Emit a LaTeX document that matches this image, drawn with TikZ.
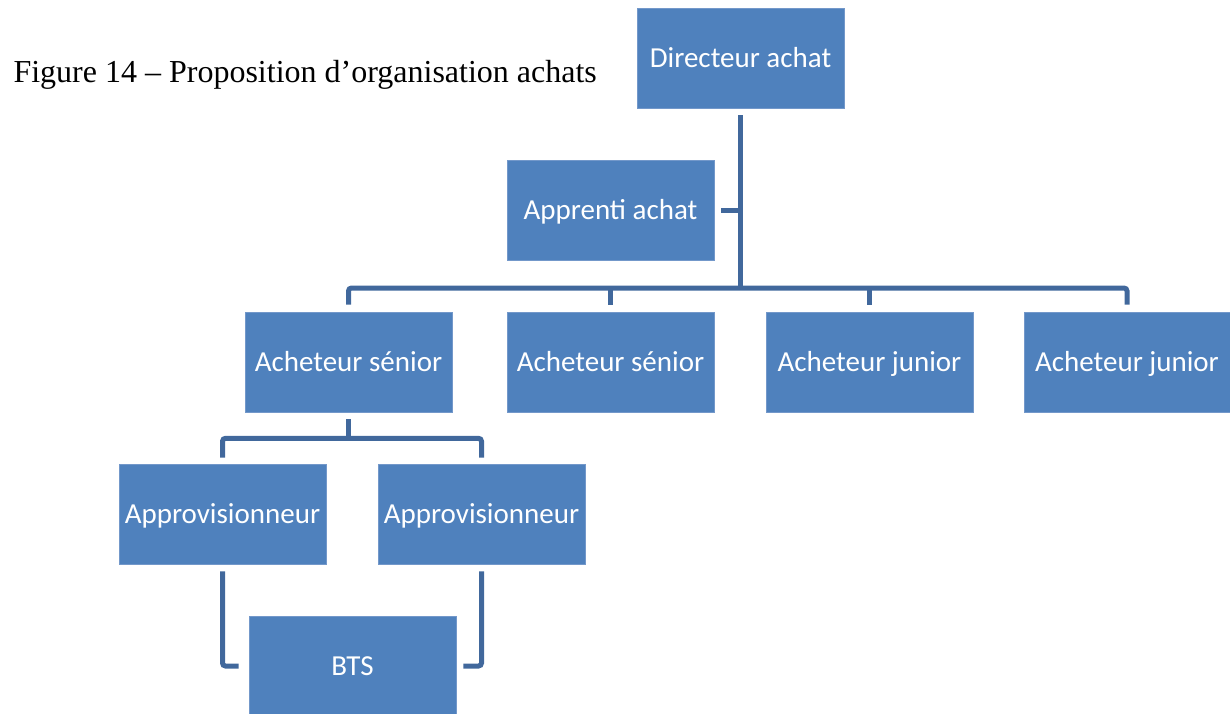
\documentclass[tikz,border=0pt]{standalone}
\usepackage{fontspec}
\setmainfont{Liberation Serif}
\newfontfamily\boxfont{Carlito}
\usetikzlibrary{calc}
\definecolor{boxblue}{HTML}{4F81BD}
\definecolor{boxedge}{HTML}{7398CA}
\definecolor{linkblue}{HTML}{41689C}
\begin{document}
\begin{tikzpicture}[x=1pt,y=-1pt,
  orgbox/.style={fill=boxblue,draw=boxedge,line width=0.6pt,minimum width=207pt,minimum height=100pt,
    inner sep=0pt,text=white,text height=18.7pt,text depth=0pt,font=\boxfont\fontsize{29}{34}\selectfont},
  link/.style={draw=linkblue,line width=5pt,rounded corners=3pt}]
\useasboundingbox (0,0) rectangle (1230,713);
\node[anchor=base west,font=\fontsize{32}{38}\selectfont] (title) at (10,82) {Figure 14 – Proposition d’organisation achats};
\node[orgbox] (dir) at (740.5,58) {Directeur achat};
\node[orgbox] (app) at (610.5,210) {Apprenti achat};
\node[orgbox] (s1) at (348.5,362) {Acheteur sénior};
\node[orgbox] (s2) at (610.5,362) {Acheteur sénior};
\node[orgbox] (j1) at (869.5,362) {Acheteur junior};
\node[orgbox,minimum width=206pt] (j2) at (1127,362) {Acheteur junior};
\node[orgbox] (ap1) at (222.5,514) {Approvisionneur};
\node[orgbox] (ap2) at (481.5,514) {Approvisionneur};
\node[orgbox] (bts) at (352.5,666) {BTS};
% top level
\coordinate (bar) at (740.5,288);
\draw[link] ($(dir.south)+(0,7)$) -- (bar);
\draw[link] ($(app.east)+(7,0)$) -- (app.east -| dir.south);
\draw[link] ($(s1.north)+(0,-7)$) |- (bar -| j2.north) -- ($(j2.north)+(0,-7)$);
\draw[link] (bar -| s2.north) -- ($(s2.north)+(0,-7)$);
\draw[link] (bar -| j1.north) -- ($(j1.north)+(0,-7)$);
% senior buyer level
\coordinate (sbar) at ($(s1.south)+(0,26)$);
\draw[link] ($(s1.south)+(0,7)$) -- (sbar);
\draw[link] ($(ap1.north)+(0,-6)$) |- (sbar) -| ($(ap2.north)+(0,-6)$);
% BTS
\draw[link] ($(ap1.south)+(0,7)$) |- ($(bts.west)+(-10,0)$);
\draw[link] ($(ap2.south)+(0,7)$) |- ($(bts.east)+(7,0)$);
\end{tikzpicture}
\end{document}
